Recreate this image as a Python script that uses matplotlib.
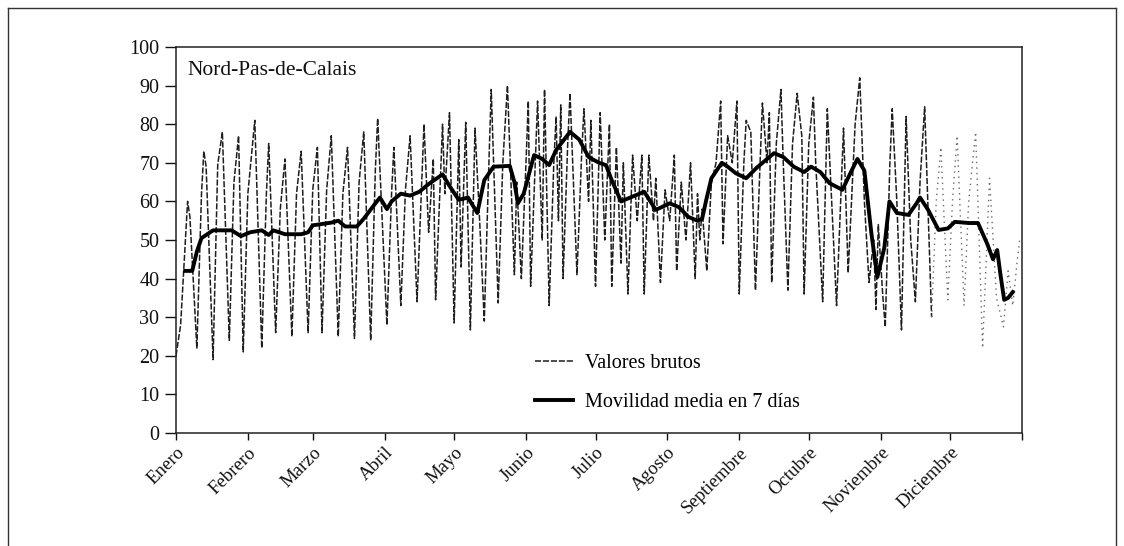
import matplotlib
matplotlib.use("Agg")
import matplotlib.pyplot as plt
import numpy as np
from matplotlib.lines import Line2D

plt.rcParams['font.family'] = ['Liberation Serif', 'DejaVu Serif']

months = ["Enero", "Febrero", "Marzo", "Abril", "Mayo", "Junio", "Julio",
          "Agosto", "Septiembre", "Octubre", "Noviembre", "Diciembre"]
month_start = [0, 31, 59, 90, 120, 151, 181, 212, 243, 273, 304, 334, 365]

# Raw daily values (key days)
raw_day = [0, 2, 5, 6, 9, 11, 12, 13, 16, 18, 20, 23, 25, 27, 29, 31, 34, 37, 39, 40,
           43, 45, 47, 50, 52, 54, 57, 59, 61, 63, 65, 67, 70, 72, 74, 77, 79, 81, 84, 86,
           87, 91, 93, 94, 97, 99, 101, 104, 106, 107, 109, 111, 112, 114, 115, 116, 118, 120, 122, 123,
           125, 127, 129, 131, 133, 135, 136, 139, 141, 143, 146, 147, 149, 151, 152, 153, 155, 156, 158, 159,
           161, 163, 164, 165, 166, 167, 169, 170, 173, 175, 176, 178, 179, 181, 183, 185, 187, 188, 190, 192,
           193, 195, 197, 199, 201, 202, 204, 206, 207, 209, 211, 213, 215, 216, 218, 220, 222, 224, 225, 226,
           227, 229, 231, 233, 235, 236, 238, 240, 242, 243, 245, 246, 248, 250, 252, 253, 255, 256, 257, 259,
           261, 262, 264, 266, 268, 270, 271, 273, 275, 276, 279, 281, 285, 288, 290, 293, 295, 297, 299, 301,
           302, 303, 305, 306, 308, 309, 311, 313, 315, 317, 319, 321, 323, 326, 328, 330, 333, 335, 337, 340,
           342, 345, 348, 351, 354, 357, 359, 361, 363, 364]
raw_val = [20, 28, 60, 56, 22, 62, 73, 69, 19, 69.5, 78, 24, 65, 77, 21, 62, 81, 22, 62, 75,
           26, 58, 71, 25, 62, 73, 26, 63, 74, 26, 63, 77, 25, 62, 74, 24.5, 65, 78, 24, 68,
           81.5, 28, 62, 74, 33, 63, 77, 34, 65, 80, 52, 71, 34.5, 65, 80, 62, 83, 28.5, 76, 43,
           80.5, 26.7, 79, 55, 29, 70, 89, 33.7, 70, 90, 41, 65, 40, 70, 86, 38, 70, 86, 50, 89,
           33, 70, 82, 55, 85, 40, 75, 88, 41, 72, 84, 60, 81, 38, 83, 50, 80, 38, 74, 44,
           70, 36, 72, 55, 72, 36, 72, 55, 66, 39, 63, 55, 72, 42, 65, 50, 70, 40, 62, 50,
           58, 42, 65, 70, 86, 49, 77, 70, 86, 36, 70, 81, 78, 37, 70, 85.5, 70, 83, 39, 75,
           89, 70, 37, 75, 88, 77, 36, 75, 87, 70, 34, 84, 33, 79, 41.5, 80, 92, 60, 39, 50,
           32, 54, 35, 27.5, 70, 84, 60, 26.7, 82, 50, 34, 65, 84.5, 30, 60, 74, 34.5, 60, 77, 33,
           60, 78, 22, 66, 35, 27.5, 42, 33, 45, 50]

# 7-day moving average
ma_day = [4, 7, 9, 11, 16, 24, 28, 32, 37, 40, 42, 47, 54, 57, 59, 67, 70, 73, 78, 81,
          85, 88, 91, 93, 97, 101, 105, 109, 115, 118, 122, 126, 130, 133, 137, 144, 146, 147.5, 150, 154.5,
          158, 161, 164, 170, 174, 178, 182.5, 185.5, 188, 192, 196, 202, 207, 213, 217, 221, 225, 227, 229, 231,
          235.5, 238, 241.5, 246, 250.5, 258, 262, 266.5, 271, 274, 278, 282, 287.5, 291.5, 294, 297, 300, 302.6, 305.6, 307.8,
          311, 316, 319.5, 321, 324.5, 329, 333, 336, 342, 346, 350, 352.5, 354.3, 355.6, 357.3, 359, 361]
ma_val = [42, 42, 47, 50.5, 52.5, 52.5, 51, 52, 52.5, 51.3, 52.5, 51.5, 51.5, 52, 53.8, 54.5, 55, 53.5, 53.5, 55.5,
          58.7, 61, 58, 60, 62, 61.5, 62.5, 64.5, 67, 64, 60.4, 61, 57, 65.5, 69, 69.2, 65, 59.5, 62, 72,
          71, 69.4, 73.3, 78, 76, 71.5, 70, 69.4, 65.5, 60, 61, 62.5, 57.8, 59.5, 58.5, 56, 55, 55.5, 61, 66,
          70, 69, 67.3, 66, 68.7, 72.5, 71.5, 69, 67.6, 69, 67.6, 64.7, 63, 68, 71, 68, 51.8, 40.4, 48, 60,
          57, 56.5, 59.5, 61, 57.8, 52.6, 53, 54.7, 54.4, 54.4, 49, 45, 47.4, 41.5, 34.5, 35, 36.5]

fig = plt.figure(figsize=(11.24, 5.46), dpi=100)
# outer frame
fig.add_artist(Line2D([8/1124, 1116/1124], [1-8/546, 1-8/546], color='#333', lw=1.0))
fig.add_artist(Line2D([8/1124, 8/1124], [0, 1-8/546], color='#333', lw=1.0))
fig.add_artist(Line2D([1116/1124, 1116/1124], [0, 1-8/546], color='#333', lw=1.0))

ax = fig.add_axes([176/1124, 1-433/546, (1022-176)/1124, (433-47)/546])

rd = np.array(raw_day, dtype=float)
rv = np.array(raw_val, dtype=float)
main = rd <= 326
late = rd >= 326
raw_style = dict(color='#1e1e1e', lw=1.1, linestyle=(0, (4, 1.2)))
ax.plot(rd[main], rv[main], zorder=2, **raw_style)
ax.plot(rd[late], rv[late], color='#6a6a6a', lw=1.0, linestyle=(0, (1, 3)), zorder=2)
ax.plot(ma_day, ma_val, color='black', lw=2.8, solid_joinstyle='round', zorder=3)

ax.set_xlim(0, 365)
ax.set_ylim(0, 100)
ax.set_yticks(range(0, 101, 10))
ax.set_xticks(month_start)
ax.set_xticklabels(months + [""], rotation=45, ha='right', rotation_mode='anchor')
ax.tick_params(axis='both', direction='out', width=1, colors='#111')
ax.tick_params(axis='y', length=8, labelsize=14.5, pad=4)
ax.tick_params(axis='x', length=5, labelsize=13.5, pad=3)
for s in ax.spines.values():
    s.set_linewidth(1.1)
    s.set_color('#222')

ax.text(0.013, 0.965, "Nord-Pas-de-Calais", transform=ax.transAxes, fontsize=15.5,
        ha='left', va='top', color='#111')

h1 = Line2D([], [], **raw_style)
h2 = Line2D([], [], color='black', lw=2.8)
ax.legend([h1, h2], ["Valores brutos", "Movilidad media en 7 días"], loc='upper left',
          bbox_to_anchor=(0.424, 0.205), frameon=False, fontsize=14.5, borderpad=0,
          borderaxespad=0, handlelength=1.9, handletextpad=0.6, labelspacing=1.0)

fig.savefig("out.png", dpi=100)
